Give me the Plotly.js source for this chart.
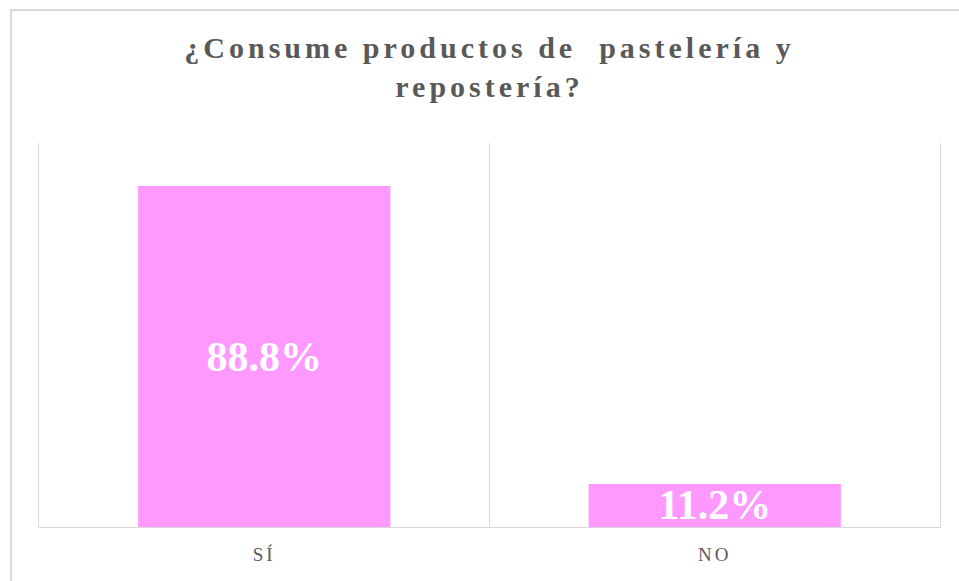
<!DOCTYPE html>
<html>
<head>
<meta charset="utf-8">
<script src="https://cdn.plot.ly/plotly-3.0.1.min.js"></script>
<style>
  html, body { margin: 0; padding: 0; background: #fff; overflow: hidden; }
  #wrap { position: relative; width: 959px; height: 581px; }
  #chart { width: 959px; height: 581px; }
  #frame { position: absolute; left: 10px; top: 9px; width: 1000px; height: 700px;
           border: 2px solid #d9d9d9; box-sizing: border-box; pointer-events: none; }
  .gtitle { letter-spacing: 4px; }
  .xtick text { letter-spacing: 3px; }
</style>
</head>
<body>
<div id="wrap">
  <div id="chart"></div>
  <div id="frame"></div>
</div>
<script>
const categories = ["SÍ", "NO"];
const percentValues = [88.8, 11.2];
const titleText = "¿Consume productos de  pastelería y<br>repostería?";

const trace = {
  type: "bar",
  x: categories,
  y: percentValues,
  marker: { color: "#FF99FF", line: { width: 0 } },
  width: 0.56,
  texttemplate: "%{y:.1f}%",
  textposition: "inside",
  insidetextanchor: "middle",
  constraintext: "none",
  textfont: { family: "Liberation Serif, Times New Roman, serif", size: 42, color: "#ffffff", weight: "bold" },
  hoverinfo: "skip"
};

const layout = {
  width: 959,
  height: 581,
  margin: { l: 39, r: 19, t: 143, b: 54 },
  paper_bgcolor: "#ffffff",
  plot_bgcolor: "#ffffff",
  showlegend: false,
  title: {
    text: titleText,
    font: { family: "Liberation Serif, Times New Roman, serif", size: 30, color: "#595959", weight: "bold" },
    x: 0.5, xref: "paper", xanchor: "center",
    y: 0.90, yref: "container", yanchor: "top"
  },
  xaxis: {
    type: "category",
    tickson: "boundaries",
    showgrid: true,
    gridcolor: "#d9d9d9",
    gridwidth: 1,
    showline: true,
    linecolor: "#d9d9d9",
    linewidth: 1,
    ticks: "",
    ticklabelstandoff: 10,
    tickfont: { family: "Liberation Serif, Times New Roman, serif", size: 19, color: "#595959" },
    fixedrange: true
  },
  yaxis: {
    range: [0, 100],
    showgrid: false,
    zeroline: false,
    showticklabels: false,
    showline: true,
    mirror: true,
    linecolor: "#d9d9d9",
    linewidth: 1,
    fixedrange: true
  }
};

Plotly.newPlot("chart", [trace], layout, { displayModeBar: false, staticPlot: true });
</script>
</body>
</html>
